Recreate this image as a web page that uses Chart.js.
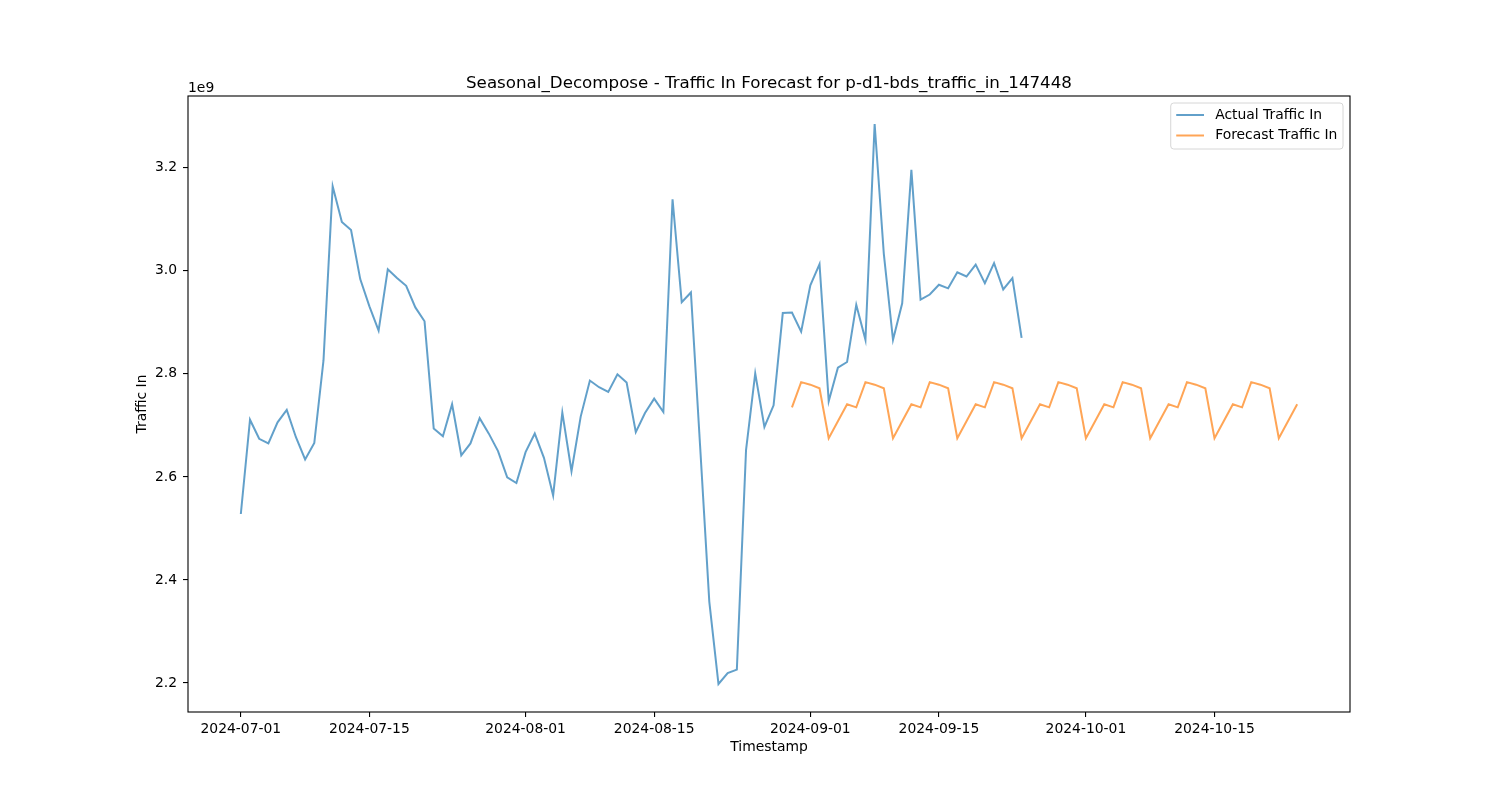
<!DOCTYPE html>
<html>
<head>
<meta charset="utf-8">
<title>Traffic In Forecast</title>
<script src="https://cdn.jsdelivr.net/npm/chart.js@4.4.1/dist/chart.umd.min.js"></script>
<style>
    html, body { margin: 0; padding: 0; background: #ffffff; }
    #contenedor { width: 1500px; height: 800px; }
</style>
</head>
<body>
<div id="contenedor"><canvas id="grafica" width="1500" height="800"></canvas></div>
<script>
// --- DATOS (valores en unidades de 1e9) ---
const fechaInicio = '2024-07-01';
const inicioPronostico = '2024-08-30';

const traficoReal = [
    2.528, 2.711, 2.674, 2.665, 2.706, 2.730, 2.677, 2.634, 2.666, 2.826,
    3.164, 3.095, 3.079, 2.984, 2.931, 2.884, 3.003, 2.986, 2.971, 2.929,
    2.902, 2.694, 2.679, 2.741, 2.642, 2.665, 2.714, 2.684, 2.650, 2.599,
    2.588, 2.648, 2.684, 2.637, 2.564, 2.725, 2.611, 2.717, 2.787, 2.774,
    2.765, 2.799, 2.783, 2.687, 2.724, 2.752, 2.726, 3.139, 2.939, 2.958,
    2.660, 2.358, 2.198, 2.219, 2.226, 2.652, 2.801, 2.697, 2.739, 2.918,
    2.919, 2.882, 2.972, 3.013, 2.747, 2.812, 2.823, 2.934, 2.866, 3.285,
    3.033, 2.866, 2.937, 3.196, 2.944, 2.954, 2.973, 2.966, 2.997, 2.989,
    3.012, 2.976, 3.015, 2.964, 2.986, 2.870
];

const traficoPronostico = [
    2.735,
    2.784, 2.779, 2.772, 2.675, 2.708, 2.741, 2.735,
    2.784, 2.779, 2.772, 2.675, 2.708, 2.741, 2.735,
    2.784, 2.779, 2.772, 2.675, 2.708, 2.741, 2.735,
    2.784, 2.779, 2.772, 2.675, 2.708, 2.741, 2.735,
    2.784, 2.779, 2.772, 2.675, 2.708, 2.741, 2.735,
    2.784, 2.779, 2.772, 2.675, 2.708, 2.741, 2.735,
    2.784, 2.779, 2.772, 2.675, 2.708, 2.741, 2.735,
    2.784, 2.779, 2.772, 2.675, 2.708, 2.741
];

const marcasX = ['2024-07-01', '2024-07-15', '2024-08-01', '2024-08-15',
                 '2024-09-01', '2024-09-15', '2024-10-01', '2024-10-15'];
const marcasY = [2.2, 2.4, 2.6, 2.8, 3.0, 3.2];

const tituloGrafica = 'Seasonal_Decompose - Traffic In Forecast for p-d1-bds_traffic_in_147448';
const tituloX = 'Timestamp';
const tituloY = 'Traffic In';
const textoEscala = '1e9';

// --- utilidades de fechas (eje x en días desde fechaInicio) ---
const DIA_MS = 86400000;
const baseMs = Date.parse(fechaInicio + 'T00:00:00Z');
function diaDe(fechaTxt) {
    return (Date.parse(fechaTxt + 'T00:00:00Z') - baseMs) / DIA_MS;
}
function fechaDe(dia) {
    return new Date(baseMs + dia * DIA_MS).toISOString().slice(0, 10);
}

const desfasePronostico = diaDe(inicioPronostico);
const puntosReal = traficoReal.map((v, i) => ({ x: i, y: v }));
const puntosPronostico = traficoPronostico.map((v, i) => ({ x: desfasePronostico + i, y: v }));

// márgenes del 5% como en matplotlib
const todosX = puntosReal.concat(puntosPronostico).map(p => p.x);
const todosY = traficoReal.concat(traficoPronostico);
const xMin = Math.min(...todosX), xMax = Math.max(...todosX);
const yMin = Math.min(...todosY), yMax = Math.max(...todosY);
const margenX = (xMax - xMin) * 0.05;
const margenY = (yMax - yMin) * 0.05;

const FUENTE = '"DejaVu Sans", "Liberation Sans", sans-serif';
const AZUL = 'rgba(31, 119, 180, 0.7)';
const NARANJA = 'rgba(255, 127, 14, 0.7)';

// Dibujo del marco, títulos y leyenda al estilo matplotlib
const decoracion = {
    id: 'decoracion',
    afterDraw(chart) {
        const ctx = chart.ctx;
        const a = chart.chartArea;
        ctx.save();

        // marco
        ctx.strokeStyle = '#000';
        ctx.lineWidth = 1.1;
        ctx.strokeRect(a.left, a.top, a.right - a.left, a.bottom - a.top);

        // título
        ctx.fillStyle = '#000';
        ctx.font = '16.7px ' + FUENTE;
        ctx.textAlign = 'center';
        ctx.textBaseline = 'alphabetic';
        ctx.fillText(tituloGrafica, (a.left + a.right) / 2, a.top - 8);

        // texto de escala
        ctx.font = '13.9px ' + FUENTE;
        ctx.textAlign = 'left';
        ctx.fillText(textoEscala, a.left, a.top - 4);

        // título eje x
        ctx.textAlign = 'center';
        ctx.textBaseline = 'middle';
        ctx.fillText(tituloX, (a.left + a.right) / 2, 747);

        // título eje y
        ctx.save();
        ctx.translate(142, (a.top + a.bottom) / 2);
        ctx.rotate(-Math.PI / 2);
        ctx.fillText(tituloY, 0, 0);
        ctx.restore();

        // leyenda
        const em = 13.9;
        const etiquetas = chart.data.datasets.map(d => d.label);
        const anchoTexto = Math.max(...etiquetas.map(t => ctx.measureText(t).width));
        const anchoCaja = em * 0.4 * 2 + em * 2 + em * 0.8 + anchoTexto;
        const altoCaja = 46;
        const x0 = a.right - 7 - anchoCaja;
        const y0 = a.top + 7;
        ctx.beginPath();
        ctx.roundRect(x0, y0, anchoCaja, altoCaja, 3);
        ctx.fillStyle = 'rgba(255,255,255,0.8)';
        ctx.fill();
        ctx.strokeStyle = '#d6d6d6';
        ctx.lineWidth = 1;
        ctx.stroke();

        chart.data.datasets.forEach((d, i) => {
            const yFila = y0 + 12 + i * 20.5;
            ctx.beginPath();
            ctx.strokeStyle = d.borderColor;
            ctx.lineWidth = 2;
            ctx.moveTo(x0 + 5.5, yFila);
            ctx.lineTo(x0 + 5.5 + em * 2, yFila);
            ctx.stroke();
            ctx.fillStyle = '#000';
            ctx.textAlign = 'left';
            ctx.textBaseline = 'middle';
            ctx.fillText(d.label, x0 + 5.5 + em * 2 + em * 0.8, yFila);
        });

        ctx.restore();
    }
};

const canvas = document.getElementById('grafica');
const miGrafica = new Chart(canvas.getContext('2d'), {
    type: 'line',
    data: {
        datasets: [
            { label: 'Actual Traffic In', data: puntosReal, borderColor: AZUL, backgroundColor: AZUL,
              borderWidth: 2, pointRadius: 0, tension: 0, fill: false },
            { label: 'Forecast Traffic In', data: puntosPronostico, borderColor: NARANJA, backgroundColor: NARANJA,
              borderWidth: 2, pointRadius: 0, tension: 0, fill: false }
        ]
    },
    options: {
        responsive: false,
        animation: false,
        devicePixelRatio: 1,
        layout: { padding: { top: 96, right: 150, left: 0, bottom: 0 } },
        plugins: {
            legend: { display: false },
            title: { display: false },
            tooltip: { enabled: false }
        },
        scales: {
            x: {
                type: 'linear',
                min: xMin - margenX,
                max: xMax + margenX,
                afterFit(escala) { escala.height = 88; },
                afterBuildTicks(escala) { escala.ticks = marcasX.map(f => ({ value: diaDe(f) })); },
                border: { display: false },
                grid: { drawOnChartArea: false, drawTicks: true, tickLength: 5, color: '#000', lineWidth: 1.1 },
                ticks: {
                    color: '#000', font: { family: FUENTE, size: 13.9 }, padding: 4,
                    maxRotation: 0, autoSkip: false,
                    callback: v => fechaDe(v)
                }
            },
            y: {
                type: 'linear',
                min: yMin - margenY,
                max: yMax + margenY,
                afterFit(escala) { escala.width = 188; },
                afterBuildTicks(escala) { escala.ticks = marcasY.map(v => ({ value: v })); },
                border: { display: false },
                grid: { drawOnChartArea: false, drawTicks: true, tickLength: 5, color: '#000', lineWidth: 1.1 },
                ticks: {
                    color: '#000', font: { family: FUENTE, size: 13.9 }, padding: 6,
                    callback: v => v.toFixed(1)
                }
            }
        }
    },
    plugins: [decoracion]
});
</script>
</body>
</html>
